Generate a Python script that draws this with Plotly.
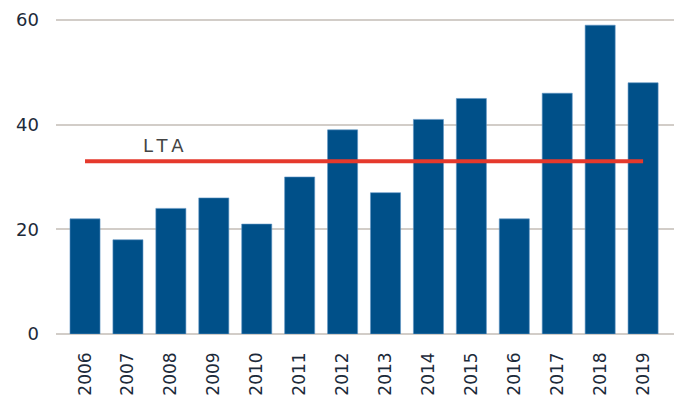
import plotly.graph_objects as go

years = ["2006", "2007", "2008", "2009", "2010", "2011", "2012",
         "2013", "2014", "2015", "2016", "2017", "2018", "2019"]
values = [22, 18, 24, 26, 21, 30, 39, 27, 41, 45, 22, 46, 59, 48]
lta_value = 33
lta_label = "L\u2009T\u2009A"
y_ticks = [0, 20, 40, 60]

lta_series = [lta_value] * len(years)

FONT = "DejaVu Sans"
TEXT = "#1c2a3a"

fig = go.Figure()
fig.add_trace(go.Bar(
    x=years, y=values,
    marker=dict(color="#005089", line=dict(color="#5e93c4", width=0.6)),
    showlegend=False,
))
fig.add_trace(go.Scatter(
    x=years, y=lta_series, mode="lines",
    line=dict(color="#e5392c", width=4),
    showlegend=False,
))
fig.add_annotation(
    x=1.82, y=lta_value, text=lta_label, showarrow=False,
    xref="x", yref="y", yanchor="bottom", yshift=3,
    font=dict(family=FONT, size=18, color="#444444"),
)

fig.update_layout(
    width=680, height=397,
    margin=dict(l=56, r=6, t=10, b=63),
    plot_bgcolor="white", paper_bgcolor="white",
    bargap=0.30,
    font=dict(family=FONT, size=17, color=TEXT),
)
fig.update_xaxes(
    type="category",
    range=[-0.676, 13.72],
    tickangle=-90,
    ticks="", ticklabelstandoff=14,
    automargin=False,
    showgrid=False, showline=False, zeroline=False,
    tickfont=dict(family=FONT, size=17, color=TEXT),
)
fig.update_yaxes(
    range=[0, 61.9],
    tickvals=y_ticks,
    ticks="", ticklabelstandoff=16,
    automargin=False,
    showgrid=True, gridcolor="#d2cdc8", gridwidth=1.5,
    zeroline=True, zerolinecolor="#d2cdc8", zerolinewidth=1.5,
    showline=False,
    tickfont=dict(family=FONT, size=18, color=TEXT),
)

fig.write_html("out.html")
